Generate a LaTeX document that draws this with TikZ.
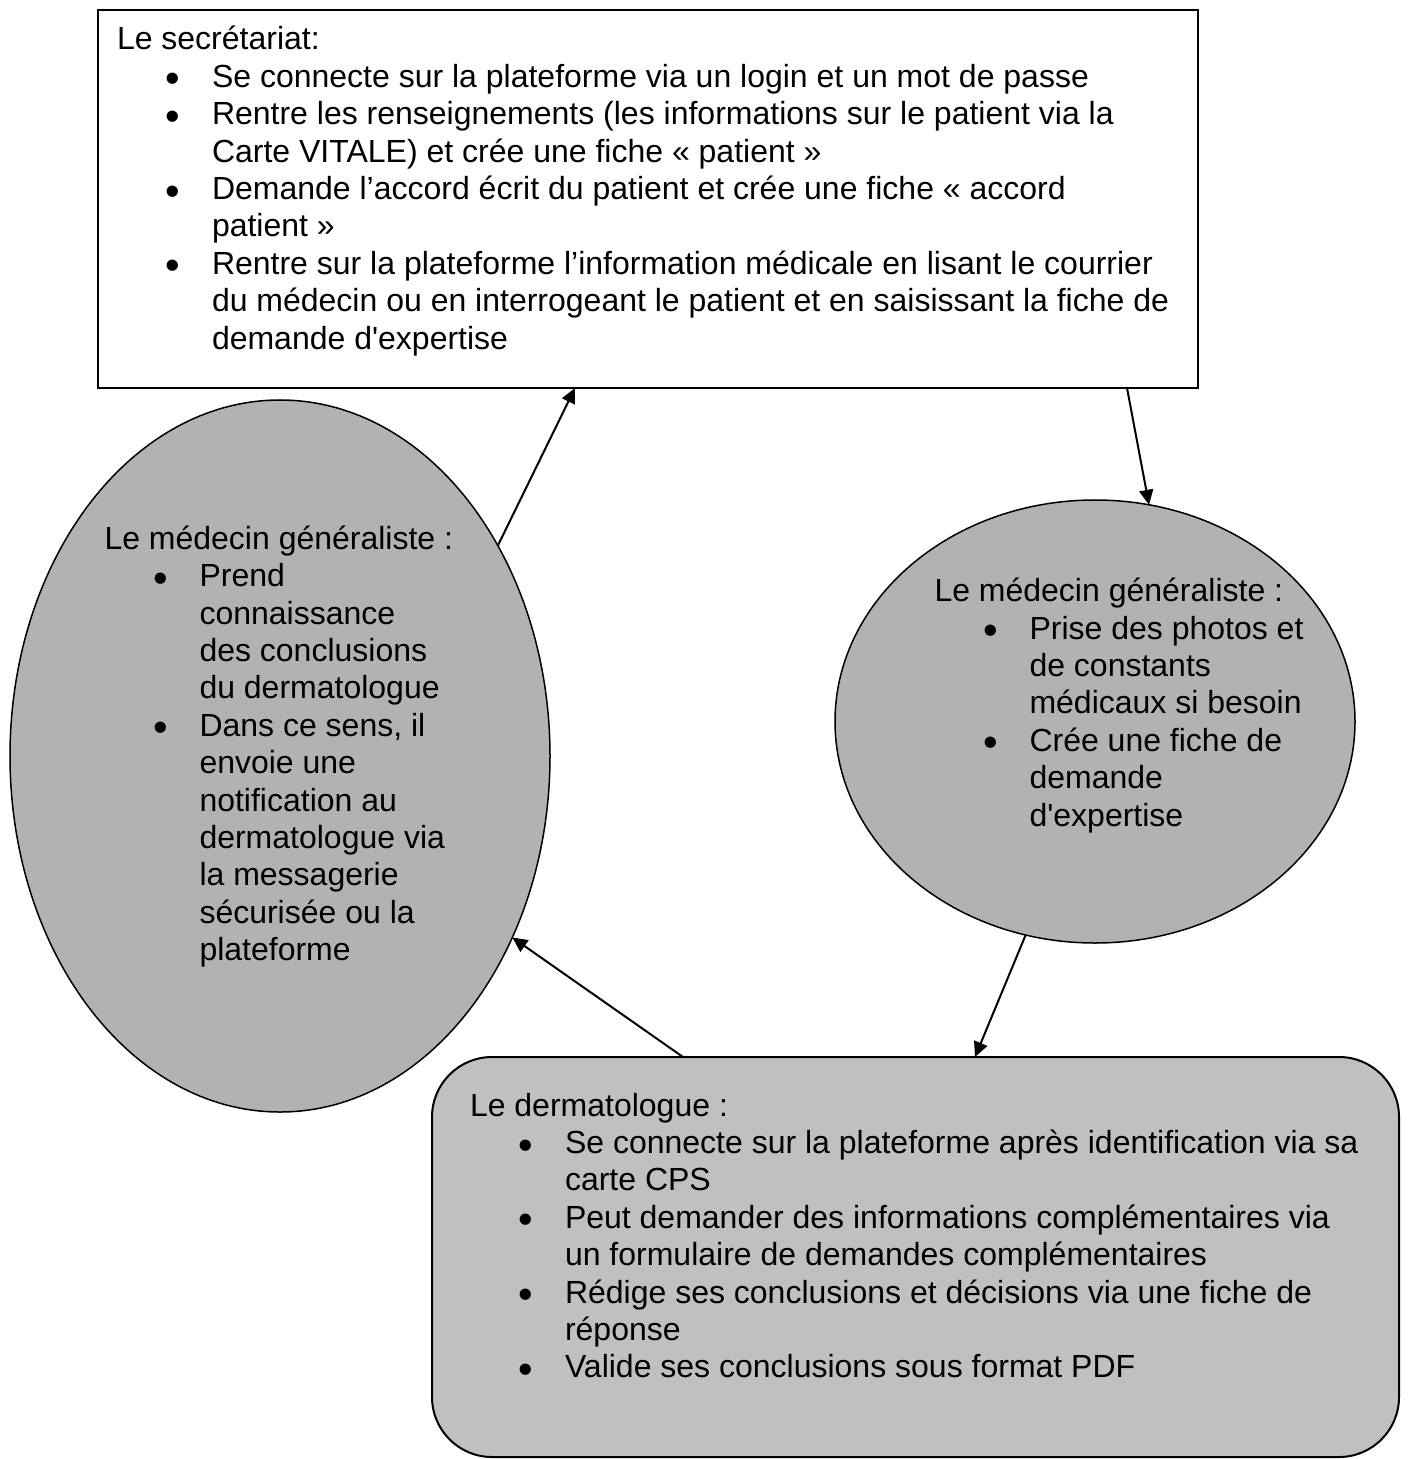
\documentclass[tikz,border=0pt]{standalone}
\usepackage{fontspec}
\setmainfont{Liberation Sans}
\usetikzlibrary{shapes.geometric,arrows.meta}
\definecolor{ellgray}{HTML}{B2B2B2}
\definecolor{boxgray}{HTML}{C0C0C0}
\newcommand\itm{\makebox[47.5pt][l]{\hspace*{24.3pt}\raisebox{-2.8pt}{\scalebox{1.3}{\textbullet}}}}
\newcommand\txtsize{\fontsize{16pt}{18.7pt}\selectfont}
\begin{document}
\begin{tikzpicture}[x=0.5pt,y=-0.5pt,
  shapebox/.style={draw,line width=1pt,inner sep=0pt,outer sep=0pt},
  ellbox/.style={ellipse,draw,line width=0.75pt,fill=ellgray,inner sep=0pt,outer sep=0pt},
  txt/.style={anchor=base west,inner sep=0pt,outer sep=0pt,font=\txtsize},
  arr/.style={-{Triangle[length=7.5pt,width=7pt]},line width=1pt}]
\useasboundingbox (0,0) rectangle (1420,1459);
\node[shapebox,minimum width=550.25pt,minimum height=189pt] (sec) at (647.75,199) {};
\node[ellbox,minimum width=270pt,minimum height=356pt] (mgl) at (280,756) {};
\node[ellbox,minimum width=260pt,minimum height=221.5pt] (mgr) at (1095,721.5) {};
\node[shapebox,fill=boxgray,rounded corners=30pt,minimum width=483.5pt,minimum height=200pt] (der) at (915.5,1257) {};

\node[txt] (secT) at (117,50) {\txtsize\begin{tabular}[t]{@{}l@{}l@{}}
\multicolumn{2}{@{}l@{}}{Le secrétariat:}\\
\itm & Se connecte sur la plateforme via un login et un mot de passe\\
\itm & Rentre les renseignements (les informations sur le patient via la\\
 & Carte VITALE) et crée une fiche « patient »\\
\itm & Demande l’accord écrit du patient et crée une fiche « accord\\
 & patient »\\
\itm & Rentre sur la plateforme l’information médicale en lisant le courrier\\
 & du médecin ou en interrogeant le patient et en saisissant la fiche de\\
 & demande d\textquotesingle expertise
\end{tabular}};

\node[txt] (mglT) at (104.5,549.3) {\txtsize\begin{tabular}[t]{@{}l@{}l@{}}
\multicolumn{2}{@{}l@{}}{Le médecin généraliste :}\\
\itm & Prend\\
 & connaissance\\
 & des conclusions\\
 & du dermatologue\\
\itm & Dans ce sens, il\\
 & envoie une\\
 & notification au\\
 & dermatologue via\\
 & la messagerie\\
 & sécurisée ou la\\
 & plateforme
\end{tabular}};

\node[txt] (mgrT) at (934.5,601.7) {\txtsize\begin{tabular}[t]{@{}l@{}l@{}}
\multicolumn{2}{@{}l@{}}{Le médecin généraliste :}\\
\itm & Prise des photos et\\
 & de constants\\
 & médicaux si besoin\\
\itm & Crée une fiche de\\
 & demande\\
 & d\textquotesingle expertise
\end{tabular}};

\node[txt] (derT) at (470,1116) {\txtsize\begin{tabular}[t]{@{}l@{}l@{}}
\multicolumn{2}{@{}l@{}}{Le dermatologue :}\\
\itm & Se connecte sur la plateforme après identification via sa\\
 & carte CPS\\
\itm & Peut demander des informations complémentaires via\\
 & un formulaire de demandes complémentaires\\
\itm & Rédige ses conclusions et décisions via une fiche de\\
 & réponse\\
\itm & Valide ses conclusions sous format PDF
\end{tabular}};

\draw[arr] (mgl.44.6) -- ([xshift=238.75pt]sec.south west);
\draw[arr] ([xshift=514.75pt]sec.south west) -- (mgr.76.54);
\draw[arr] (mgr.252.7) -- ([xshift=271.5pt]der.north west);
\draw[arr] ([xshift=125.5pt]der.north west) -- (mgl.322.6);
\end{tikzpicture}
\end{document}
